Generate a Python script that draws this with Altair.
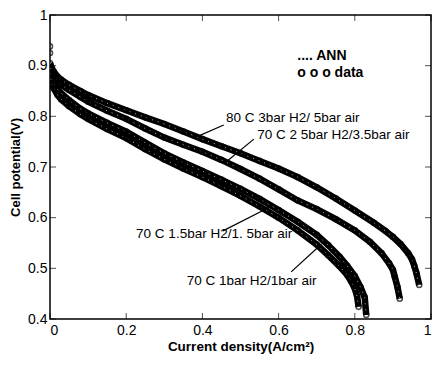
import altair as alt
import pandas as pd

# ---- data ----
x_a = [0.0, 0.0, 0.005, 0.01, 0.02, 0.03, 0.05, 0.08, 0.1, 0.15, 0.2, 0.25, 0.3, 0.35, 0.4, 0.45, 0.5, 0.55, 0.6, 0.65, 0.7, 0.75, 0.8, 0.85, 0.88, 0.9, 0.92, 0.94, 0.95, 0.956, 0.962, 0.969]
v_a = [0.938, 0.905, 0.895, 0.888, 0.878, 0.872, 0.862, 0.850, 0.842, 0.826, 0.812, 0.798, 0.785, 0.770, 0.755, 0.741, 0.727, 0.712, 0.697, 0.680, 0.660, 0.638, 0.614, 0.590, 0.574, 0.562, 0.548, 0.530, 0.518, 0.505, 0.490, 0.467]

x_b = [0.0, 0.0, 0.005, 0.01, 0.02, 0.03, 0.05, 0.08, 0.1, 0.15, 0.2, 0.25, 0.3, 0.35, 0.4, 0.45, 0.5, 0.55, 0.6, 0.65, 0.7, 0.75, 0.8, 0.84, 0.87, 0.89, 0.9, 0.905, 0.912, 0.918]
v_b = [0.925, 0.895, 0.886, 0.879, 0.869, 0.862, 0.852, 0.838, 0.829, 0.811, 0.795, 0.776, 0.758, 0.744, 0.730, 0.714, 0.696, 0.677, 0.656, 0.634, 0.617, 0.597, 0.575, 0.552, 0.530, 0.510, 0.497, 0.483, 0.463, 0.440]

x_c = [0.0, 0.005, 0.01, 0.02, 0.03, 0.05, 0.08, 0.1, 0.15, 0.2, 0.25, 0.3, 0.35, 0.4, 0.45, 0.5, 0.55, 0.6, 0.65, 0.7, 0.73, 0.76, 0.78, 0.8, 0.815, 0.826, 0.83]
v_c = [0.885, 0.872, 0.865, 0.853, 0.845, 0.832, 0.815, 0.806, 0.787, 0.770, 0.748, 0.727, 0.709, 0.692, 0.675, 0.657, 0.637, 0.615, 0.592, 0.566, 0.546, 0.523, 0.505, 0.485, 0.463, 0.443, 0.408]

x_d = [0.0, 0.005, 0.01, 0.02, 0.03, 0.05, 0.08, 0.1, 0.15, 0.2, 0.25, 0.3, 0.35, 0.4, 0.45, 0.5, 0.55, 0.6, 0.65, 0.7, 0.73, 0.76, 0.78, 0.79, 0.8, 0.806, 0.81]
v_d = [0.875, 0.862, 0.855, 0.842, 0.833, 0.820, 0.804, 0.795, 0.775, 0.757, 0.735, 0.715, 0.697, 0.680, 0.662, 0.643, 0.622, 0.600, 0.575, 0.547, 0.526, 0.504, 0.487, 0.475, 0.460, 0.445, 0.424]

series_names = ["80 C 3bar", "70 C 2.5bar", "70 C 1.5bar", "70 C 1bar"]

label_text = ["80 C 3bar H2/ 5bar air", "70 C 2 5bar H2/3.5bar air",
              "70 C 1.5bar H2/1. 5bar air", "70 C 1bar H2/1bar air"]
label_x = [0.462, 0.544, 0.226, 0.359]
label_v = [0.797, 0.763, 0.568, 0.475]

arrow_x1 = [0.456, 0.535, 0.454, 0.633]
arrow_v1 = [0.783, 0.755, 0.574, 0.493]
arrow_x2 = [0.377, 0.462, 0.572, 0.710]
arrow_v2 = [0.757, 0.710, 0.619, 0.546]
arrow_head = [False, False, True, True]
arrow_angle = [0, 0, 62, 44]

legend_text = [".... ANN", "o o o data"]
legend_x = [0.649, 0.649]
legend_v = [0.919, 0.886]

x_ticks = [0, 0.2, 0.4, 0.6, 0.8, 1]
y_ticks = [0.4, 0.5, 0.6, 0.7, 0.8, 0.9, 1]

# ---- build tables ----
rows = []
for name, xs, vs in zip(series_names, [x_a, x_b, x_c, x_d], [v_a, v_b, v_c, v_d]):
    for i, (xx, vv) in enumerate(zip(xs, vs)):
        rows.append({"series": name, "order": i, "x": xx, "v": vv})
df = pd.DataFrame(rows)
df_line = df.drop_duplicates(subset=["series", "x"], keep="last")

df_lab = pd.DataFrame({"t": label_text, "x": label_x, "v": label_v})
df_arr = pd.DataFrame({"x": arrow_x1, "v": arrow_v1, "x2": arrow_x2, "v2": arrow_v2,
                       "head": arrow_head, "ang": arrow_angle})
df_leg = pd.DataFrame({"t": legend_text, "x": legend_x, "v": legend_v})
df_xt = pd.DataFrame({"x": x_ticks})
df_yt = pd.DataFrame({"v": y_ticks})

W, H = 381, 304
FONT = "Liberation Sans"

xs = alt.Scale(domain=[0, 1], nice=False)
ys = alt.Scale(domain=[0.4, 1], nice=False)

X = alt.X("x:Q", scale=xs,
          axis=alt.Axis(values=x_ticks, format="~g", ticks=False, domain=False, grid=False,
                        labelFontSize=14, labelPadding=4, labelColor="black", labelFont=FONT,
                        title="Current density(A/cm²)", titleFontSize=13.5, titleFontWeight="bold",
                        titleFont=FONT, titlePadding=2, titleColor="black"))
Y = alt.Y("v:Q", scale=ys,
          axis=alt.Axis(values=y_ticks, format="~g", ticks=False, domain=False, grid=False,
                        labelFontSize=14, labelPadding=3, labelColor="black", labelFont=FONT,
                        title="Cell potential(V)", titleFontSize=13, titleFontWeight="bold",
                        titleFont=FONT, titlePadding=5, titleColor="black"))

line = alt.Chart(df_line).mark_line(color="black", strokeWidth=6.5, clip=True).encode(
    x=X, y=Y, detail="series:N", order="order:Q")
line_dots = alt.Chart(df_line).mark_line(color="white", strokeWidth=1, strokeDash=[1, 5],
                                         opacity=0.7, clip=True).encode(
    x="x:Q", y="v:Q", detail="series:N", order="order:Q")
pts = alt.Chart(df).mark_point(shape="circle", filled=False, color="black", size=26,
                               strokeWidth=1.5, clip=True).encode(x="x:Q", y="v:Q")

labels = alt.Chart(df_lab).mark_text(align="left", baseline="middle", fontSize=13.5,
                                     font=FONT, color="black").encode(x="x:Q", y="v:Q", text="t:N")
arrows = alt.Chart(df_arr).mark_rule(color="black", strokeWidth=1.2).encode(
    x="x:Q", y="v:Q", x2="x2:Q", y2="v2:Q")
heads = alt.Chart(df_arr[df_arr["head"]]).mark_point(shape="triangle-up", filled=True, color="black",
                                                     size=26).encode(
    x="x2:Q", y="v2:Q", angle=alt.Angle("ang:Q", scale=None))
legend = alt.Chart(df_leg).mark_text(align="left", baseline="middle", fontSize=14, fontWeight="bold",
                                     font=FONT, color="black").encode(x="x:Q", y="v:Q", text="t:N")

tick_b = alt.Chart(df_xt).mark_tick(color="black", size=6, thickness=1).encode(
    x="x:Q", y=alt.value(H - 3))
tick_t = alt.Chart(df_xt).mark_tick(color="black", size=6, thickness=1).encode(
    x="x:Q", y=alt.value(3))
tick_l = alt.Chart(df_yt).mark_tick(color="black", size=6, thickness=1).encode(
    y="v:Q", x=alt.value(3))
tick_r = alt.Chart(df_yt).mark_tick(color="black", size=6, thickness=1).encode(
    y="v:Q", x=alt.value(W - 3))

chart = alt.layer(line, line_dots, pts, arrows, heads, labels, legend,
                  tick_b, tick_t, tick_l, tick_r).properties(
    width=W, height=H,
    autosize=alt.AutoSizeParams(type="none"),
    padding={"left": 42, "top": 7, "right": 1, "bottom": 38},
    background="white",
).configure_view(stroke="black", strokeWidth=1.5)

chart.save("out.html", embed_options={"renderer": "svg", "actions": False})
